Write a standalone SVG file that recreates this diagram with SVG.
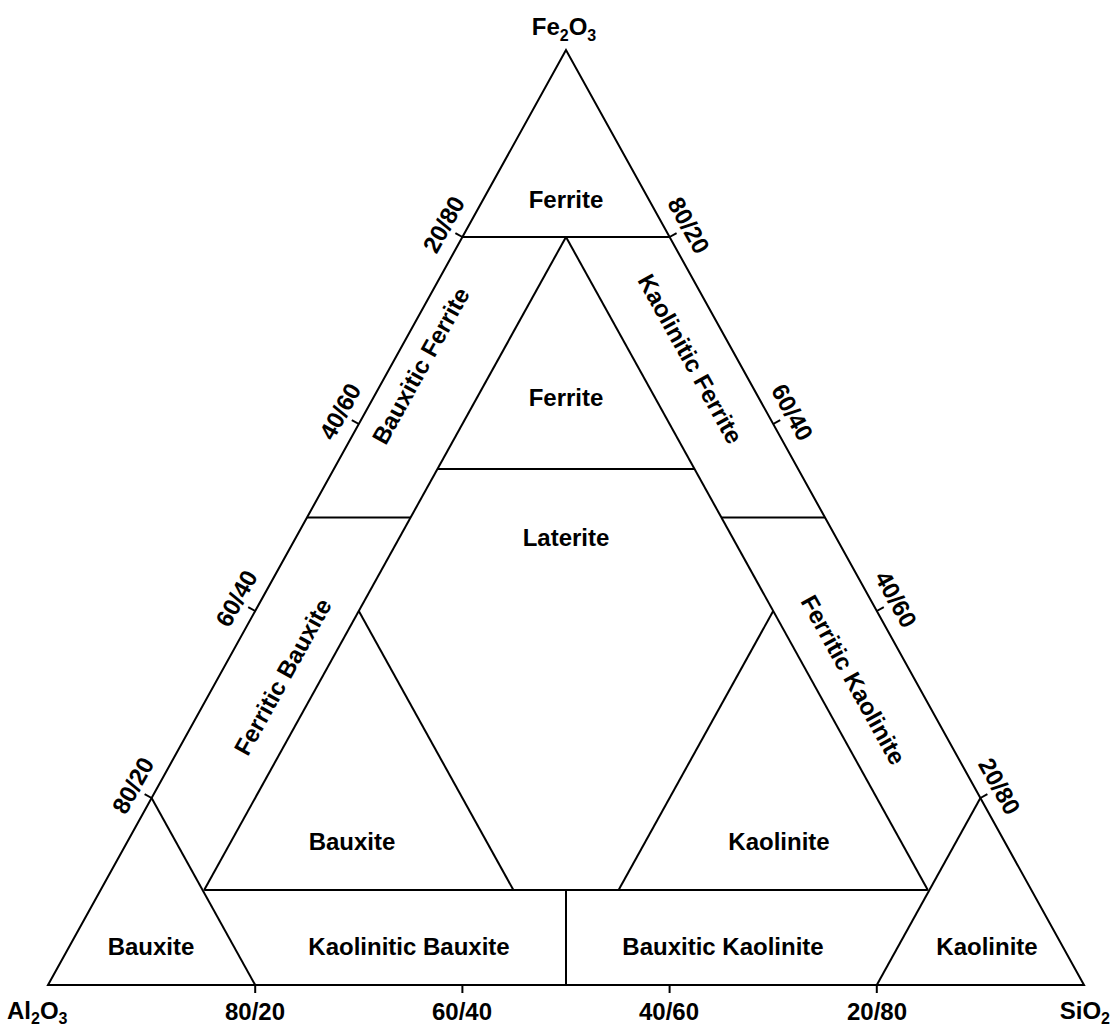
<svg xmlns="http://www.w3.org/2000/svg" width="1112" height="1026" viewBox="0 0 1112 1026">
<style>
.ln{stroke:#000;stroke-width:2;fill:none;stroke-linecap:butt}
text{font-family:"Liberation Sans",Arial,sans-serif;font-weight:bold;font-size:24px;fill:#000}
.sub{font-size:16px}
.c{text-anchor:middle}
</style>
<rect width="1112" height="1026" fill="#fff"/>
<g id="frame">
<polygon class="ln" points="566,50 48,985 1084,985"/>
</g>
<g id="connectors">
<line class="ln" x1="462.4" y1="237" x2="669.6" y2="237"/>
<line class="ln" x1="566" y1="237" x2="204.2" y2="890"/>
<line class="ln" x1="566" y1="237" x2="927.8" y2="890"/>
<line class="ln" x1="437.5" y1="469" x2="694.5" y2="469"/>
<line class="ln" x1="307" y1="517.5" x2="410.6" y2="517.5"/>
<line class="ln" x1="721.4" y1="517.5" x2="825" y2="517.5"/>
<line class="ln" x1="358.8" y1="611" x2="513.4" y2="890"/>
<line class="ln" x1="773.2" y1="611" x2="618.6" y2="890"/>
<line class="ln" x1="204.2" y1="890" x2="927.8" y2="890"/>
<line class="ln" x1="566" y1="890" x2="566" y2="985"/>
<line class="ln" x1="151.6" y1="798" x2="255.2" y2="985"/>
<line class="ln" x1="980.4" y1="798" x2="876.8" y2="985"/>
</g>
<g id="ticks">
<line class="ln" x1="462.4" y1="237" x2="455.4" y2="233.1"/>
<line class="ln" x1="358.8" y1="424" x2="351.8" y2="420.1"/>
<line class="ln" x1="255.2" y1="611" x2="248.2" y2="607.1"/>
<line class="ln" x1="151.6" y1="798" x2="144.6" y2="794.1"/>
<line class="ln" x1="669.6" y1="237" x2="676.6" y2="233.1"/>
<line class="ln" x1="773.2" y1="424" x2="780.2" y2="420.1"/>
<line class="ln" x1="876.8" y1="611" x2="883.8" y2="607.1"/>
<line class="ln" x1="980.4" y1="798" x2="987.4" y2="794.1"/>
<line class="ln" x1="255.2" y1="985" x2="255.2" y2="993"/>
<line class="ln" x1="462.4" y1="985" x2="462.4" y2="993"/>
<line class="ln" x1="669.6" y1="985" x2="669.6" y2="993"/>
<line class="ln" x1="876.8" y1="985" x2="876.8" y2="993"/>
</g>
<g id="apex-labels">
<text class="c" x="564" y="35">Fe<tspan class="sub" dy="6">2</tspan><tspan dy="-6">O</tspan><tspan class="sub" dy="6">3</tspan></text>
<text x="7" y="1019">Al<tspan class="sub" dy="5">2</tspan><tspan dy="-5">O</tspan><tspan class="sub" dy="5">3</tspan></text>
<text x="1110" y="1019" text-anchor="end">SiO<tspan class="sub" dy="5">2</tspan></text>
</g>
<g id="tick-labels">
<text class="c" transform="translate(462.4,237) rotate(-61)" x="2" y="-14">20/80</text>
<text class="c" transform="translate(358.8,424) rotate(-61)" x="2" y="-14">40/60</text>
<text class="c" transform="translate(255.2,611) rotate(-61)" x="2" y="-14">60/40</text>
<text class="c" transform="translate(151.6,798) rotate(-61)" x="2" y="-14">80/20</text>
<text class="c" transform="translate(669.6,237) rotate(61)" x="-1" y="-14">80/20</text>
<text class="c" transform="translate(773.2,424) rotate(61)" x="-1" y="-14">60/40</text>
<text class="c" transform="translate(876.8,611) rotate(61)" x="-1" y="-14">40/60</text>
<text class="c" transform="translate(980.4,798) rotate(61)" x="-1" y="-14">20/80</text>
<text class="c" x="255" y="1020">80/20</text>
<text class="c" x="462" y="1020">60/40</text>
<text class="c" x="669" y="1020">40/60</text>
<text class="c" x="877" y="1020">20/80</text>
</g>
<g id="node-ferrite-top"><text class="c" x="566" y="208">Ferrite</text></g>
<g id="node-ferrite"><text class="c" x="566" y="406">Ferrite</text></g>
<g id="node-laterite"><text class="c" x="566" y="546">Laterite</text></g>
<g id="node-bauxitic-ferrite"><text class="c" transform="translate(421,366) rotate(-61)" y="8">Bauxitic Ferrite</text></g>
<g id="node-kaolinitic-ferrite"><text class="c" transform="translate(690,359) rotate(61)" y="8">Kaolinitic Ferrite</text></g>
<g id="node-ferritic-bauxite"><text class="c" transform="translate(283,677) rotate(-61)" y="8">Ferritic Bauxite</text></g>
<g id="node-ferritic-kaolinite"><text class="c" transform="translate(853,680) rotate(61)" y="8">Ferritic Kaolinite</text></g>
<g id="node-bauxite-inner"><text class="c" x="352" y="850">Bauxite</text></g>
<g id="node-kaolinite-inner"><text class="c" x="779" y="850">Kaolinite</text></g>
<g id="node-bauxite-corner"><text class="c" x="151" y="955">Bauxite</text></g>
<g id="node-kaolinitic-bauxite"><text class="c" x="409" y="955">Kaolinitic Bauxite</text></g>
<g id="node-bauxitic-kaolinite"><text class="c" x="723" y="955">Bauxitic Kaolinite</text></g>
<g id="node-kaolinite-corner"><text class="c" x="987" y="955">Kaolinite</text></g>
</svg>
